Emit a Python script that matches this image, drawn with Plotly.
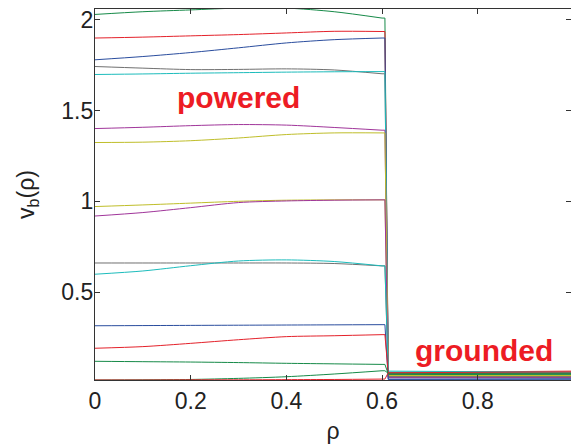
import plotly.graph_objects as go

# radial coordinate samples on the powered electrode
rho_powered = [0.0, 0.1, 0.2, 0.3, 0.4, 0.5, 0.6]
# edge of the powered electrode and foot of the drop, then end of the domain
rho_edge = 0.606
rho_foot = 0.613
rho_end = 1.0

# bias voltage profiles on the powered region (one list per run)
v_green_a = [2.030, 2.045, 2.055, 2.065, 2.065, 2.045, 2.010]
v_red_a = [1.900, 1.905, 1.912, 1.919, 1.928, 1.937, 1.936]
v_blue_a = [1.780, 1.798, 1.820, 1.846, 1.873, 1.891, 1.900]
v_gray_a = [1.743, 1.734, 1.726, 1.727, 1.730, 1.724, 1.703]
v_cyan_a = [1.699, 1.702, 1.706, 1.709, 1.712, 1.714, 1.715]
v_magenta_a = [1.401, 1.408, 1.417, 1.423, 1.420, 1.407, 1.392]
v_yellow_a = [1.324, 1.326, 1.334, 1.349, 1.368, 1.377, 1.377]
v_yellow_b = [0.971, 0.980, 0.990, 1.000, 1.006, 1.008, 1.008]
v_magenta_b = [0.919, 0.938, 0.965, 0.993, 1.002, 1.006, 1.008]
v_gray_b = [0.660, 0.660, 0.660, 0.660, 0.660, 0.657, 0.644]
v_cyan_b = [0.598, 0.616, 0.645, 0.671, 0.677, 0.668, 0.644]
v_blue_b = [0.314, 0.315, 0.316, 0.317, 0.318, 0.319, 0.320]
v_red_b = [0.190, 0.199, 0.217, 0.237, 0.254, 0.259, 0.265]
v_green_b = [0.118, 0.116, 0.114, 0.111, 0.107, 0.104, 0.101]
v_green_c = [0.015, 0.016, 0.018, 0.024, 0.033, 0.048, 0.066]
v_red_c = [0.015, 0.015, 0.016, 0.016, 0.017, 0.018, 0.020]

# residual voltage on the grounded region: [at foot of drop, at rho = 1]
g_green_a = [0.045, 0.046]
g_red_a = [0.056, 0.064]
g_blue_a = [0.020, 0.022]
g_gray_a = [0.035, 0.036]
g_cyan_a = [0.064, 0.058]
g_magenta_a = [0.030, 0.031]
g_yellow_a = [0.040, 0.040]
g_yellow_b = [0.038, 0.038]
g_magenta_b = [0.028, 0.029]
g_gray_b = [0.033, 0.033]
g_cyan_b = [0.058, 0.055]
g_blue_b = [0.018, 0.019]
g_red_b = [0.050, 0.052]
g_green_b = [0.048, 0.049]
g_green_c = [0.052, 0.053]
g_red_c = [0.055, 0.060]

GREEN = "#168a48"
RED = "#e4212a"
BLUE = "#2a4d9e"
GRAY = "#707070"
CYAN = "#1cbcbc"
MAGENTA = "#a0359a"
YELLOW = "#bfbe2a"

runs = [
    (v_green_a, g_green_a, GREEN),
    (v_red_a, g_red_a, RED),
    (v_blue_a, g_blue_a, BLUE),
    (v_gray_a, g_gray_a, GRAY),
    (v_cyan_a, g_cyan_a, CYAN),
    (v_magenta_a, g_magenta_a, MAGENTA),
    (v_yellow_a, g_yellow_a, YELLOW),
    (v_yellow_b, g_yellow_b, YELLOW),
    (v_magenta_b, g_magenta_b, MAGENTA),
    (v_gray_b, g_gray_b, GRAY),
    (v_cyan_b, g_cyan_b, CYAN),
    (v_blue_b, g_blue_b, BLUE),
    (v_red_b, g_red_b, RED),
    (v_green_b, g_green_b, GREEN),
    (v_green_c, g_green_c, GREEN),
    (v_red_c, g_red_c, RED),
]

fig = go.Figure()
for v, g, color in runs:
    # smooth profile over the powered electrode
    fig.add_trace(go.Scatter(
        x=rho_powered, y=v, mode="lines",
        line=dict(color=color, width=1, shape="spline", smoothing=0.8),
        showlegend=False, hoverinfo="skip",
    ))
    # sharp drop at the electrode edge and the grounded tail
    fig.add_trace(go.Scatter(
        x=[rho_powered[-1], rho_edge, rho_foot, rho_end],
        y=[v[-1], v[-1], g[0], g[1]],
        mode="lines",
        line=dict(color=color, width=1),
        showlegend=False, hoverinfo="skip",
    ))

font_family = "Liberation Sans, Arial, Helvetica, sans-serif"
axis_common = dict(
    showgrid=False, zeroline=False,
    showline=True, linecolor="#333333", linewidth=1.3, mirror="ticks",
    ticks="inside", ticklen=5, tickwidth=1, tickcolor="#333333",
    tickfont=dict(family=font_family, size=23, color="#222222"),
)

fig.update_layout(
    width=571, height=444,
    margin=dict(l=95, r=0, t=9, b=64),
    paper_bgcolor="white", plot_bgcolor="white",
    xaxis=dict(
        range=[0, 0.995],
        tickvals=[0, 0.2, 0.4, 0.6, 0.8],
        ticktext=["0", "0.2", "0.4", "0.6", "0.8"],
        title=dict(text="ρ", font=dict(family=font_family, size=23, color="#222222"), standoff=10),
        **axis_common,
    ),
    yaxis=dict(
        range=[0.015, 2.06],
        tickvals=[0.5, 1.0, 1.5, 2.0],
        ticktext=["0.5", "1", "1.5", "2"],
        ticklabelstandoff=-4,
        title=dict(text="v<sub>b</sub>(ρ)", font=dict(family=font_family, size=23, color="#222222"), standoff=20),
        **axis_common,
    ),
    annotations=[
        dict(x=0.299, y=1.57, xref="x", yref="y", text="<b>powered</b>", showarrow=False,
             xanchor="center", yanchor="middle",
             font=dict(family=font_family, size=30, color="#ed1c24")),
        dict(x=0.813, y=0.18, xref="x", yref="y", text="<b>grounded</b>", showarrow=False,
             xanchor="center", yanchor="middle",
             font=dict(family=font_family, size=30, color="#ed1c24")),
    ],
)

fig.write_html("out.html")
